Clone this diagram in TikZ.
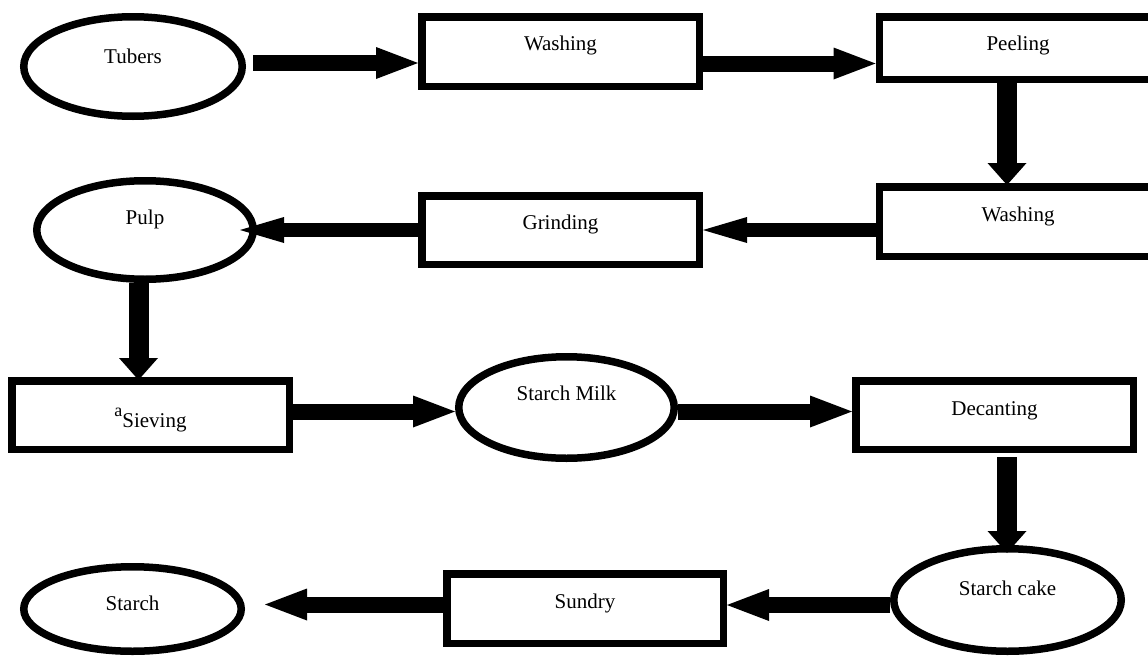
\documentclass[tikz,border=0pt]{standalone}
\usepackage{fontspec}
\setmainfont{Liberation Serif}
\usetikzlibrary{shapes.geometric}
\usetikzlibrary{arrows.meta}

\tikzset{
  box/.style={draw, line width=7.5pt, inner sep=0pt, text height=14pt, text depth=#1,
    minimum width=277.5pt, minimum height=69.5pt, font=\fontsize{21pt}{25pt}\selectfont},
  box/.default=16pt,
  oval/.style={draw, ellipse, line width=7.5pt, inner sep=0pt, text height=14pt, text depth=#1,
    font=\fontsize{21pt}{25pt}\selectfont},
  oval/.default=16pt,
  flow/.style={line width=16pt, -{Triangle[length=42pt,width=32pt,line width=0pt]}},
  thinflow/.style={line width=14pt, -{Triangle[length=44pt,width=26pt,line width=0pt]}},
  flowdown/.style={line width=20pt, -{Triangle[length=22pt,width=39pt,line width=0pt]}}
}

\begin{document}
\begin{tikzpicture}[x=1pt,y=-1pt]
  \clip (0,0) rectangle (1148,656);
  % first row
  \node[oval=21pt, minimum width=218.5pt, minimum height=99.5pt] (tubers) at (133,66.5) {Tubers};
  \node[box=17pt] (wash1) at (560.5,51.5) {Washing};
  \node[box=9pt, minimum height=62.5pt] (peel) at (1018,48) {Peeling};
  % second row
  \node[box=15pt] (wash2) at (1018,221.5) {Washing};
  \node[box, minimum height=68.5pt] (grind) at (560.5,230) {Grinding};
  \node[oval=26pt, minimum width=216.5pt, minimum height=98.5pt] (pulp) at (145,230) {Pulp};
  % third row
  \node[box=2pt, text height=26pt, minimum height=68.5pt] (sieve) at (150.5,415)
    {\raisebox{11pt}{\fontsize{18pt}{18pt}\selectfont a}Sieving};
  \node[oval=28pt, minimum width=215.5pt, minimum height=101.5pt] (milk) at (566.5,407.5) {Starch Milk};
  \node[box=13pt, minimum height=68.5pt] (decant) at (994.5,415) {Decanting};
  % last row
  \node[oval=23pt, minimum width=227.5pt, minimum height=102.5pt] (cake) at (1007.5,600) {Starch cake};
  \node[box=15pt, minimum width=276.5pt] (sundry) at (585,608.5) {Sundry};
  \node[oval=12pt, minimum width=217.5pt, minimum height=84.5pt] (starch) at (132.5,609) {Starch};
  % arrows
  \draw[flow] ([xshift=7pt,yshift=3.5pt]tubers.east) -- ([yshift=3.5pt]tubers.east -| wash1.west);
  \draw[flow] ([yshift=-12pt]wash1.east) -- ([yshift=-12pt]wash1.east -| peel.west);
  \draw[flowdown] ([xshift=-11pt]peel.south) -- ([xshift=-11pt,yshift=-2pt]peel.south |- wash2.north);
  \draw[thinflow] (wash2.west |- grind.east) -- (grind.east);
  \draw[thinflow] (grind.west) -- ([xshift=-17pt]pulp.east);
  \draw[flowdown] ([xshift=-6.5pt]pulp.south) -- ([xshift=-6.5pt,yshift=-3pt]pulp.south |- sieve.north);
  \draw[flow] ([yshift=3.5pt]sieve.east) -- ([yshift=3.5pt]sieve.east -| milk.west);
  \draw[flow] ([yshift=-4pt]milk.east) -- ([yshift=-4pt]milk.east -| decant.west);
  \draw[flowdown] ([xshift=12.5pt,yshift=-4pt]decant.south) -- ([xshift=12.5pt,yshift=-8pt]decant.south |- cake.north);
  \draw[flow] ([yshift=-5pt]cake.west) -- ([yshift=-5pt]cake.west -| sundry.east);
  \draw[flow] ([yshift=4pt]sundry.west) -- ([xshift=20pt,yshift=4pt]sundry.west -| starch.east);
\end{tikzpicture}
\end{document}
